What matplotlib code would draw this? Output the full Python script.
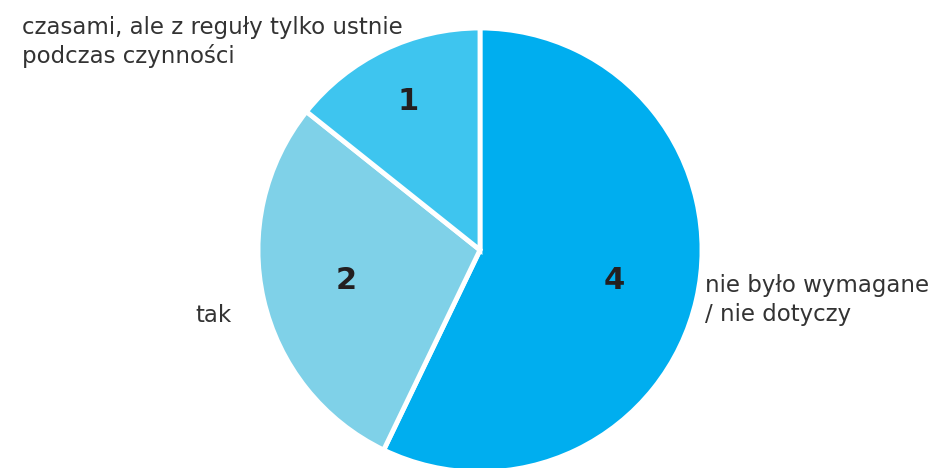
# Wykres kołowy: wymagane potwierdzenia

import matplotlib.pyplot as plt

labels = ['nie było wymagane\n/ nie dotyczy', 'tak', 'czasami, ale z reguły tylko ustnie\npodczas czynności']
values = [4, 2, 1]
colors = ['#00AEEF', '#7FD1E8', '#3EC5EF']

plt.rcParams['font.family'] = ['DejaVu Sans']

fig = plt.figure(figsize=(9.43, 4.68), dpi=100)
# osie ustawione tak, żeby środek koła wypadł ok. (480, 250) px
ax = fig.add_axes([258 / 943, -4 / 468, 444 / 943, 444 / 468])

wedges, texts = ax.pie(values, colors=colors, startangle=90, counterclock=False,
                       radius=1, labels=[str(v) for v in values], labeldistance=0.62,
                       wedgeprops=dict(edgecolor='white', linewidth=3.5),
                       textprops=dict(fontsize=22, fontweight='bold', color='#231F20',
                                      ha='center', va='center'))
# mały wycinek - liczba dalej od środka
x, y = texts[2].get_position()
texts[2].set_position((x * 1.2, y * 1.2))
ax.set_xlim(-1, 1)
ax.set_ylim(-1, 1)
ax.set_aspect('equal')

# opisy na zewnątrz koła
fig.text(705 / 943, 1 - 300 / 468, labels[0], fontsize=16.5, color='#333333',
         ha='left', va='center', linespacing=1.3)
fig.text(232 / 943, 1 - 316 / 468, labels[1], fontsize=16.5, color='#333333',
         ha='right', va='center')
fig.text(22 / 943, 1 - 42 / 468, labels[2], fontsize=16.5, color='#333333',
         ha='left', va='center', linespacing=1.3)

plt.savefig('out.png', dpi=100)
